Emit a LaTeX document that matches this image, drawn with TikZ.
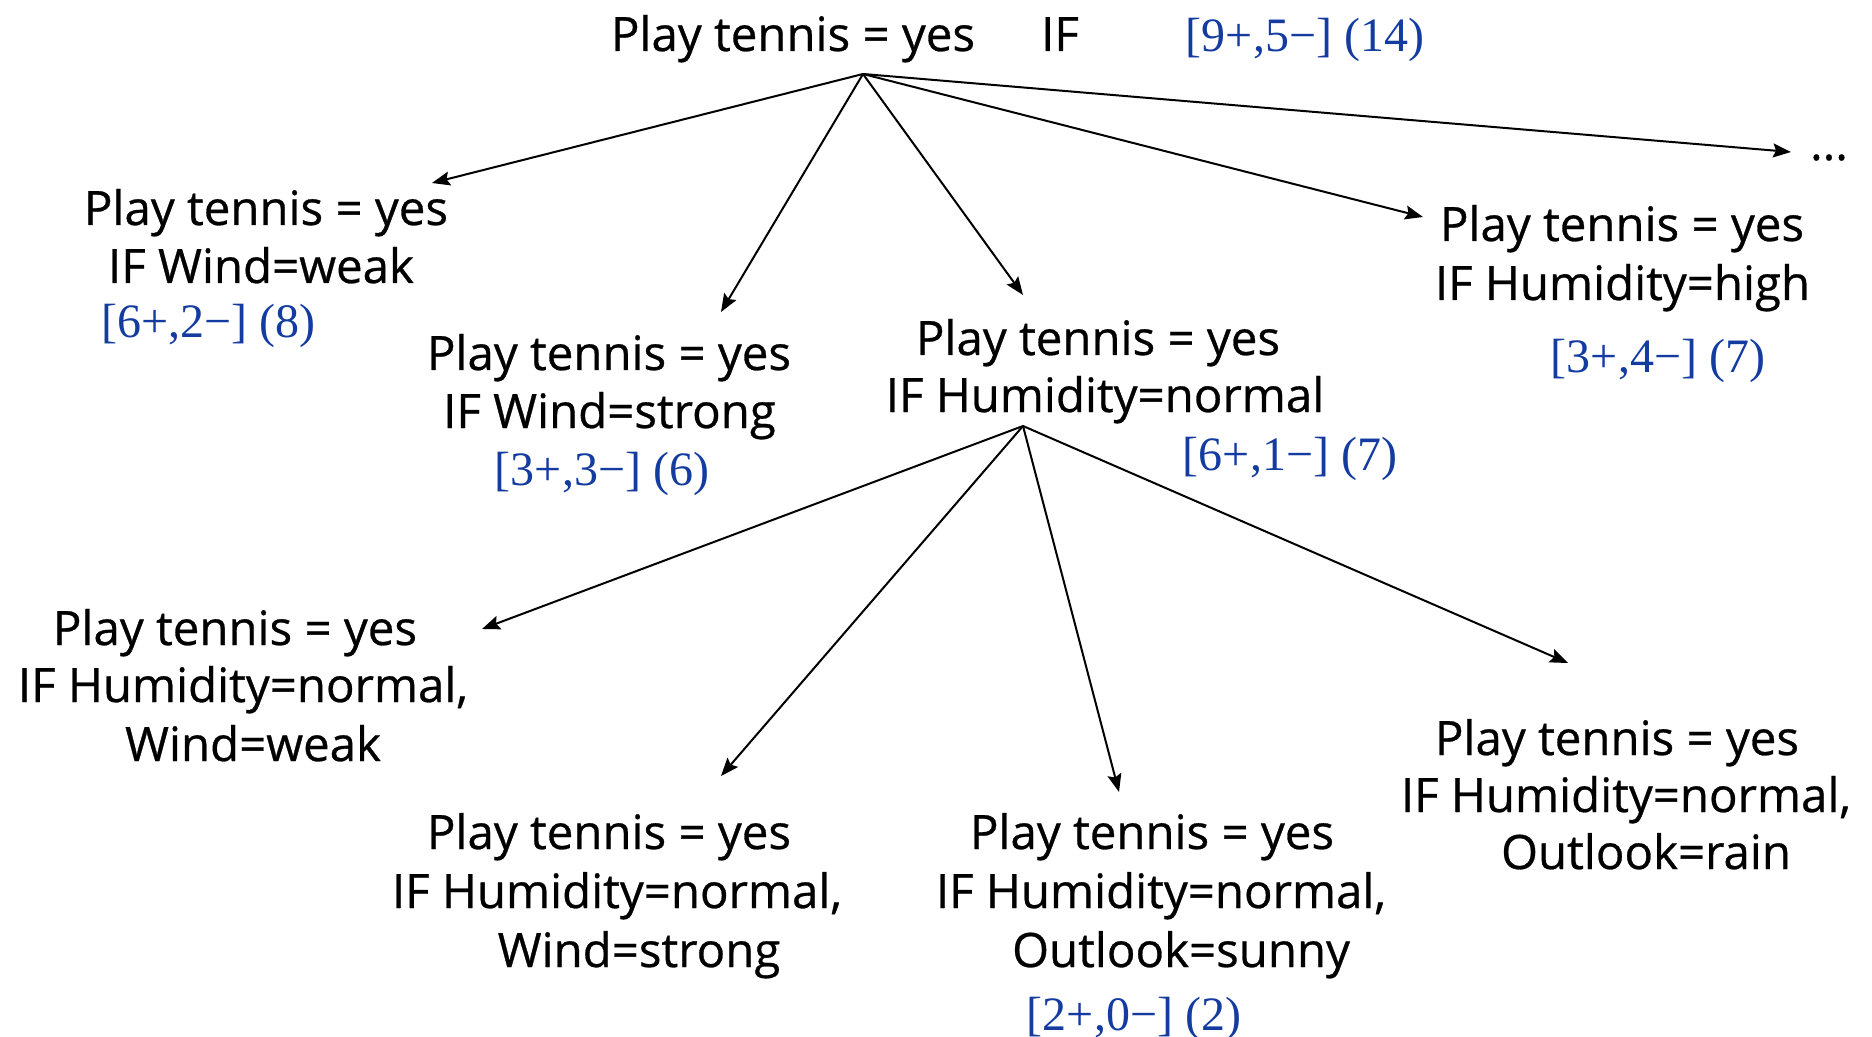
\documentclass[tikz,border=0pt]{standalone}
\usepackage{fontspec}
\setmainfont[FakeBold=0.6]{Open Sans}
\newfontfamily\bluefont{Liberation Serif}
\usetikzlibrary{arrows.meta}
\definecolor{lblue}{RGB}{20,60,160}
\begin{document}
\begin{tikzpicture}[x=0.5pt,y=-0.5pt,
  txt/.style={anchor=base,inner sep=0pt,font=\fontsize{23.7}{28}\selectfont},
  cnt/.style={anchor=base,inner sep=0pt,text=lblue,font=\bluefont\fontsize{24}{28}\selectfont},
  arr/.style={-{Stealth[length=9pt,width=7pt,inset=1.5pt]},line width=1pt}]
\useasboundingbox (0,0) rectangle (1872,1037);

% root
\node[txt] (r1) at (793,51) {Play tennis = yes};
\node[txt] (rIF) at (1060,51) {IF};
\node[cnt] (rc) at (1305,52) {[9+,5−] (14)};
% A
\node[txt] (a1) at (266,225) {Play tennis = yes};
\node[txt] (a2) at (261,283) {IF Wind=weak};
\node[cnt,anchor=base west] (ac) at (101,338) {[6+,2−] (8)};
% B
\node[txt] (b1) at (609,370) {Play tennis = yes};
\node[txt] (b2) at (609.5,428) {IF Wind=strong};
\node[cnt] (bc) at (602,485) {[3+,3−] (6)};
% C
\node[txt] (c1) at (1098,355) {Play tennis = yes};
\node[txt] (c2) at (1105,412) {IF Humidity=normal};
\node[cnt] (cc) at (1290,470) {[6+,1−] (7)};
% D
\node[txt] (d1) at (1622,241) {Play tennis = yes};
\node[txt] (d2) at (1622.5,300) {IF Humidity=high};
\node[cnt] (dc) at (1658,372) {[3+,4−] (7)};
% dots
\node[txt] (dots) at (1829,160) {...};
% E
\node[txt] (e1) at (235,645) {Play tennis = yes};
\node[txt] (e2) at (243,702) {IF Humidity=normal,};
\node[txt] (e3) at (253,761) {Wind=weak};
% F
\node[txt] (f1) at (609,849) {Play tennis = yes};
\node[txt] (f2) at (617,908) {IF Humidity=normal,};
\node[txt] (f3) at (639,967) {Wind=strong};
% G
\node[txt] (g1) at (1152,849) {Play tennis = yes};
\node[txt] (g2) at (1161,908) {IF Humidity=normal,};
\node[txt] (g3) at (1181,967) {Outlook=sunny};
\node[cnt] (gc) at (1134,1030) {[2+,0−] (2)};
% H
\node[txt] (h1) at (1617,755) {Play tennis = yes};
\node[txt] (h2) at (1626,812) {IF Humidity=normal,};
\node[txt] (h3) at (1646,869) {Outlook=rain};

% connector end points
\coordinate (ro) at (863,74);
\coordinate (ta) at (432,183);
\coordinate (tb) at (721,312);
\coordinate (tc) at (1023,295);
\coordinate (td) at (1423,217);
\coordinate (tdots) at (1791,152);
\coordinate (co) at (1023,426);
\coordinate (te) at (482,629);
\coordinate (tf) at (721,776);
\coordinate (tg) at (1119,792);
\coordinate (th) at (1568,663);

\draw[arr] (ro) -- (ta);
\draw[arr] (ro) -- (tb);
\draw[arr] (ro) -- (tc);
\draw[arr] (ro) -- (td);
\draw[arr] (ro) -- (tdots);
\draw[arr] (co) -- (te);
\draw[arr] (co) -- (tf);
\draw[arr] (co) -- (tg);
\draw[arr] (co) -- (th);
\end{tikzpicture}
\end{document}
